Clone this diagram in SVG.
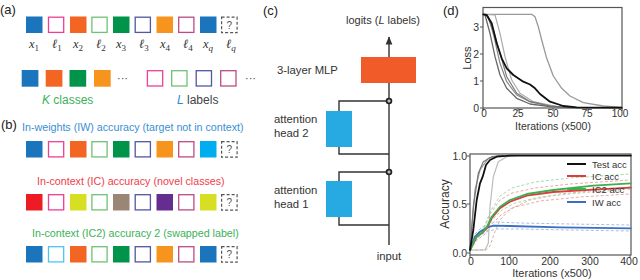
<svg xmlns="http://www.w3.org/2000/svg" width="640" height="280" viewBox="0 0 640 280">
<defs>
<style>
text{font-family:"Liberation Sans",Arial,sans-serif;fill:#333}
.pl{font-size:13px;fill:#222}
.math{font-family:"Liberation Serif","Times New Roman",serif;font-style:italic;font-size:12.5px;fill:#333}
.sub{font-style:normal;font-size:9px}
.subi{font-size:9px}
.sq{stroke:none}
.o{fill:#fff;stroke-width:1.3}
.dash{fill:#fff;stroke:#555;stroke-width:1.2;stroke-dasharray:3,2}
.q{font-size:10px;fill:#555;text-anchor:middle}
.ttl{font-size:10.7px}
.lab{font-size:11.3px;fill:#333}
.wire{fill:none;stroke:#333;stroke-width:1.4}
.frame{fill:none;stroke:#555;stroke-width:1.2}
.tick{stroke:#555;stroke-width:1}
.tl{font-size:10.5px;fill:#333}
.tls{font-size:10px;fill:#333}
.curve{fill:none;stroke-linejoin:round;stroke-linecap:round}
.pd{fill:none;stroke-width:1;stroke-dasharray:3,2}
.lg{font-size:9.5px}
</style>
<marker id="arr" viewBox="0 0 10 10" refX="9" refY="5" markerWidth="6" markerHeight="6" orient="auto">
<path d="M0,1 L10,5 L0,9 z" fill="#333"/>
</marker>
</defs>
<rect width="640" height="280" fill="#fff"/>

<!-- Panel (a) -->
<text class="pl" x="0" y="14">(a)</text>
<g id="a-seq">
<rect class="sq" x="26" y="16.5" width="16.5" height="16.5" fill="#1b75bc"/>
<rect class="o" x="48.5" y="17.2" width="15.2" height="15.2" stroke="#ec3f96"/>
<rect class="sq" x="70" y="16.5" width="16.5" height="16.5" fill="#f26522"/>
<rect class="o" x="91.9" y="17.2" width="15.2" height="15.2" stroke="#6fc274"/>
<rect class="sq" x="113" y="16.5" width="16.5" height="16.5" fill="#00944a"/>
<rect class="o" x="135.2" y="17.2" width="15.2" height="15.2" stroke="#5256a4"/>
<rect class="sq" x="156.5" y="16.5" width="16.5" height="16.5" fill="#f7941d"/>
<rect class="o" x="178.7" y="17.2" width="15.2" height="15.2" stroke="#bd4a86"/>
<rect class="sq" x="200" y="16.5" width="16.5" height="16.5" fill="#1b75bc"/>
<rect class="dash" x="221.6" y="17.2" width="15.5" height="15.5"/>
<text class="q" x="229.4" y="28.5">?</text>
</g>
<g id="a-labels">
<text class="math" x="29" y="48">x<tspan class="sub" dy="3">1</tspan></text>
<text class="math" x="52" y="48">ℓ<tspan class="sub" dy="3">1</tspan></text>
<text class="math" x="73" y="48">x<tspan class="sub" dy="3">2</tspan></text>
<text class="math" x="96" y="48">ℓ<tspan class="sub" dy="3">2</tspan></text>
<text class="math" x="116" y="48">x<tspan class="sub" dy="3">3</tspan></text>
<text class="math" x="139" y="48">ℓ<tspan class="sub" dy="3">3</tspan></text>
<text class="math" x="160" y="48">x<tspan class="sub" dy="3">4</tspan></text>
<text class="math" x="183" y="48">ℓ<tspan class="sub" dy="3">4</tspan></text>
<text class="math" x="203" y="48">x<tspan class="subi" dy="3">q</tspan></text>
<text class="math" x="226" y="48">ℓ<tspan class="subi" dy="3">q</tspan></text>
</g>
<g id="a-classes">
<rect class="sq" x="21.7" y="70" width="16.7" height="16.7" fill="#1b75bc"/>
<rect class="sq" x="45.7" y="70" width="16.7" height="16.7" fill="#f26522"/>
<rect class="sq" x="69.5" y="70" width="16.7" height="16.7" fill="#00944a"/>
<rect class="sq" x="94" y="70" width="16.7" height="16.7" fill="#f7941d"/>
<text x="117" y="82" style="font-size:11px;fill:#444">···</text>
<text x="42" y="104" style="font-size:12px;fill:#3bb15a"><tspan font-style="italic">K</tspan> classes</text>
</g>
<g id="a-labelset">
<rect class="o" x="147.4" y="70.7" width="15.3" height="15.3" stroke="#ec3f96"/>
<rect class="o" x="171.7" y="70.7" width="15.3" height="15.3" stroke="#6fc274"/>
<rect class="o" x="196.2" y="70.7" width="15.3" height="15.3" stroke="#5256a4"/>
<rect class="o" x="220.7" y="70.7" width="15.3" height="15.3" stroke="#bd4a86"/>
<text x="245" y="82" style="font-size:11px;fill:#444">···</text>
<text x="177" y="104" style="font-size:12px;fill:#444"><tspan font-style="italic" fill="#2e8bd0">L</tspan> labels</text>
</g>

<!-- Panel (b) -->
<text class="pl" x="1" y="129">(b)</text>
<g id="b-iw">
<text class="ttl" x="22" y="131" style="fill:#3a8fd3">In-weights (IW) accuracy (target not in context)</text>
<rect class="sq" x="26" y="141" width="16.5" height="16.5" fill="#1b75bc"/>
<rect class="o" x="48.5" y="141.7" width="15.2" height="15.2" stroke="#ec3f96"/>
<rect class="sq" x="70" y="141" width="16.5" height="16.5" fill="#f26522"/>
<rect class="o" x="91.9" y="141.7" width="15.2" height="15.2" stroke="#6fc274"/>
<rect class="sq" x="113" y="141" width="16.5" height="16.5" fill="#00944a"/>
<rect class="o" x="135.2" y="141.7" width="15.2" height="15.2" stroke="#5256a4"/>
<rect class="sq" x="156.5" y="141" width="16.5" height="16.5" fill="#f7941d"/>
<rect class="o" x="178.7" y="141.7" width="15.2" height="15.2" stroke="#bd4a86"/>
<rect class="sq" x="200" y="141" width="16.5" height="16.5" fill="#00aeef"/>
<rect class="dash" x="221.6" y="141.7" width="15.5" height="15.5"/>
<text class="q" x="229.4" y="153">?</text>
</g>
<g id="b-ic">
<text class="ttl" x="37" y="185" style="fill:#ef3e4a">In-context (IC) accuracy (novel classes)</text>
<rect class="sq" x="26" y="194" width="16.5" height="16.5" fill="#ed1c24"/>
<rect class="o" x="48.5" y="194.7" width="15.2" height="15.2" stroke="#ec3f96"/>
<rect class="sq" x="70" y="194" width="16.5" height="16.5" fill="#d7df23"/>
<rect class="o" x="91.9" y="194.7" width="15.2" height="15.2" stroke="#6fc274"/>
<rect class="sq" x="113" y="194" width="16.5" height="16.5" fill="#998675"/>
<rect class="o" x="135.2" y="194.7" width="15.2" height="15.2" stroke="#5256a4"/>
<rect class="sq" x="156.5" y="194" width="16.5" height="16.5" fill="#662d91"/>
<rect class="o" x="178.7" y="194.7" width="15.2" height="15.2" stroke="#bd4a86"/>
<rect class="sq" x="200" y="194" width="16.5" height="16.5" fill="#d7df23"/>
<rect class="dash" x="221.6" y="194.7" width="15.5" height="15.5"/>
<text class="q" x="229.4" y="206">?</text>
</g>
<g id="b-ic2">
<text class="ttl" x="32" y="237" style="fill:#3bb15a">In-context (IC2) accuracy 2 (swapped label)</text>
<rect class="sq" x="26" y="246" width="16.5" height="16.5" fill="#1b75bc"/>
<rect class="o" x="48.5" y="246.7" width="15.2" height="15.2" stroke="#4fc3f0"/>
<rect class="sq" x="70" y="246" width="16.5" height="16.5" fill="#f26522"/>
<rect class="o" x="91.9" y="246.7" width="15.2" height="15.2" stroke="#6fc274"/>
<rect class="sq" x="113" y="246" width="16.5" height="16.5" fill="#00944a"/>
<rect class="o" x="135.2" y="246.7" width="15.2" height="15.2" stroke="#5256a4"/>
<rect class="sq" x="156.5" y="246" width="16.5" height="16.5" fill="#f7941d"/>
<rect class="o" x="178.7" y="246.7" width="15.2" height="15.2" stroke="#bd4a86"/>
<rect class="sq" x="200" y="246" width="16.5" height="16.5" fill="#1b75bc"/>
<rect class="dash" x="221.6" y="246.7" width="15.5" height="15.5"/>
<text class="q" x="229.4" y="258">?</text>
</g>

<!-- Panel (c) -->
<text class="pl" x="263" y="15">(c)</text>
<g id="connectors">
<line class="wire" x1="389" y1="245" x2="389" y2="37" marker-end="url(#arr)"/>
<polyline class="wire" points="389,101 339,101 339,154 389,154"/>
<polyline class="wire" points="389,172 339,172 339,225 389,225"/>
</g>
<g id="mlp">
<rect x="361" y="57" width="55" height="26" fill="#f15a29"/>
<text class="lab" x="277" y="74">3-layer MLP</text>
</g>
<g id="head2">
<rect x="326" y="111" width="26" height="36" fill="#27aae1"/>
<text class="lab" x="274" y="123">attention</text>
<text class="lab" x="274" y="137">head 2</text>
</g>
<g id="head1">
<rect x="326" y="181" width="26" height="36" fill="#27aae1"/>
<text class="lab" x="274" y="194">attention</text>
<text class="lab" x="274" y="208">head 1</text>
</g>
<g id="add2">
<circle cx="389" cy="101" r="3.3" fill="#222"/>
<path d="M387.3,101 H390.7 M389,99.3 V102.7" stroke="#fff" stroke-width="0.9"/>
</g>
<g id="add1">
<circle cx="389" cy="172" r="3.3" fill="#222"/>
<path d="M387.3,172 H390.7 M389,170.3 V173.7" stroke="#fff" stroke-width="0.9"/>
</g>
<g id="logits"><text x="346" y="24" style="font-size:11px">logits (<tspan font-style="italic">L</tspan> labels)</text></g>
<g id="input"><text x="389" y="260" text-anchor="middle" style="font-size:11.3px">input</text></g>

<!-- Panel (d) -->
<text class="pl" x="443" y="15">(d)</text>
<!-- Loss plot -->
<g id="loss-plot">
<rect class="frame" x="483" y="7.5" width="139" height="100.5"/>
<g class="tick">
<line x1="480" y1="108" x2="483" y2="108"/><line x1="480" y1="81" x2="483" y2="81"/>
<line x1="480" y1="54" x2="483" y2="54"/><line x1="480" y1="27" x2="483" y2="27"/>
<line x1="483" y1="108" x2="483" y2="111"/><line x1="518" y1="108" x2="518" y2="111"/>
<line x1="553" y1="108" x2="553" y2="111"/><line x1="587" y1="108" x2="587" y2="111"/>
<line x1="622" y1="108" x2="622" y2="111"/>
</g>
<g class="tl" text-anchor="end">
<text x="479" y="112">0</text><text x="479" y="85">1</text><text x="479" y="58">2</text><text x="479" y="31">3</text>
</g>
<g class="tls" text-anchor="middle">
<text x="484" y="117">0</text><text x="518" y="117">25</text><text x="553" y="117">50</text><text x="587" y="117">75</text><text x="620" y="117">100</text>
</g>
<text x="553" y="129.5" text-anchor="middle" style="font-size:10.5px">Iterations (x500)</text>
<text transform="translate(471,58) rotate(-90)" text-anchor="middle" style="font-size:11px">Loss</text>
<polyline class="curve" stroke="#999" stroke-width="1.3" points="483.3,14.3 531.7,14.3 535,16.7 538.3,26.7 541.7,40 546.7,58.3 553.3,76 561.7,88.3 570,96 583.3,102.7 603.3,106 621.7,107.3"/>
<polyline class="curve" stroke="#aaa" stroke-width="1.2" points="483.3,14.3 495,15 500,33.3 505,56.7 511.7,80 520,93.3 533.3,101.7 556.7,106.7 576.7,107.7"/>
<polyline class="curve" stroke="#888" stroke-width="1.2" points="483.3,14.3 488.3,16.7 494,36.7 500,63.3 506.7,81.7 516.7,95 530,101.7 550,106 570,107.5"/>
<polyline class="curve" stroke="#777" stroke-width="1.2" points="483.3,14.3 486.7,15 493.3,30 500,53.3 506.7,76.7 516.7,93.3 530,101.7 550,106 570,107.3"/>
<polyline class="curve" stroke="#666" stroke-width="1.3" points="483.3,14.3 485,15 490,33.3 495,56.7 500,75 506.7,88.3 516.7,98.3 530,104 550,106.7 570,107.7 621.7,107.7"/>
<polyline class="curve" stroke="#111" stroke-width="1.8" points="483.3,14.3 486.7,15 491.7,23.3 496.7,43.3 501.7,58.3 506.7,68.3 513.3,75 523.3,81.7 530,84.5 535,88.3 540,94 550,101.7 563.3,106 576.7,107.3 621.7,107.7"/>
</g>

<!-- Accuracy plot -->
<g id="acc-plot">
<rect class="frame" x="470" y="154" width="161" height="101"/>
<g class="tick">
<line x1="467" y1="156" x2="470" y2="156"/><line x1="467" y1="204" x2="470" y2="204"/><line x1="467" y1="253" x2="470" y2="253"/>
<line x1="470" y1="255" x2="470" y2="258"/><line x1="510" y1="255" x2="510" y2="258"/><line x1="550" y1="255" x2="550" y2="258"/>
<line x1="590" y1="255" x2="590" y2="258"/><line x1="630" y1="255" x2="630" y2="258"/>
</g>
<g class="tl" text-anchor="end">
<text x="467" y="160">1.0</text><text x="467" y="208">0.5</text><text x="467" y="257">0.0</text>
</g>
<g class="tl" text-anchor="middle">
<text x="471" y="265">0</text><text x="509" y="265">100</text><text x="550" y="265">200</text><text x="590" y="265">300</text><text x="629" y="265">400</text>
</g>
<text x="552" y="277" text-anchor="middle" style="font-size:11px">Iterations (x500)</text>
<text transform="translate(449,204) rotate(-90)" text-anchor="middle" style="font-size:12px">Accuracy</text>

<polyline class="pd" stroke="#d9b3a8" points="470,250 486,250 490,246 494,234 500,220 510,209 530,200 560,194 600,190 630,187"/>
<polyline class="pd" stroke="#f3a5a8" points="470,248 477,235 484,229 490,214 500,200 512,193 535,188 570,184 630,180"/>
<polyline class="pd" stroke="#f3a5a8" points="470,250 477,240 485,234 492,224 502,214 515,207 540,201 580,197 630,194"/>
<polyline class="pd" stroke="#a9dcaa" points="470,248 477,234 484,228 490,212 500,196 512,188 535,182 570,178 630,174"/>
<polyline class="pd" stroke="#a9dcaa" points="470,250 477,238 485,232 492,220 502,210 515,203 540,197 580,193 630,189"/>
<polyline class="pd" stroke="#a9bfe6" points="470,248 475,234 481,228 488,224 496,222 520,223 570,224 630,225"/>
<polyline class="pd" stroke="#a9bfe6" points="470,250 476,239 482,234 489,231 497,229 520,229 570,230 630,231"/>

<polyline class="curve" stroke="#bbb" stroke-width="1.2" points="470,250 485,250 488.3,243.3 490,206.7 493.3,176.7 498.3,161.7 506.7,156.7 516.7,155.7"/>
<polyline class="curve" stroke="#999" stroke-width="1.2" points="470,250 475,190 480,170 488.3,158.3 500,155.7"/>
<polyline class="curve" stroke="#777" stroke-width="1.2" points="470,250 473.3,206.7 478.3,173.3 483.3,161.7 491.7,156.7 503.3,155.7"/>
<polyline class="curve" stroke="#3a6fc4" stroke-width="1.8" points="470,250 475,236.7 480,231.7 486.7,227.7 493.3,225.7 510,226 560,227.3 630.7,228.3"/>
<polyline class="curve" stroke="#e0393e" stroke-width="1.8" points="470,250 476.7,236.7 483.3,231.7 486.7,228.3 491.7,218.3 500,208.3 510,201.7 526.7,195.7 553.3,192 593.3,189.7 630.7,187.7"/>
<polyline class="curve" stroke="#3bb04e" stroke-width="1.8" points="470,250 476.7,236.7 483.3,231.7 486.7,227.3 491.7,216.7 500,206.7 510,200 526.7,194 553.3,190 593.3,185.7 630.7,183.3"/>
<polyline class="curve" stroke="#111" stroke-width="1.8" points="470,250 473.3,230 476.7,200 480,183.3 482.7,176.7 486,165 490,160 496.7,156.7 510,155.7 630.7,155.7"/>

<g id="legend">
<line x1="567" y1="164" x2="586" y2="164" stroke="#111" stroke-width="2"/>
<text class="lg" x="592" y="167.5">Test acc</text>
<line x1="567" y1="176" x2="586" y2="176" stroke="#e0393e" stroke-width="2"/>
<text class="lg" x="592" y="179.5">IC acc</text>
<line x1="567" y1="189" x2="586" y2="189" stroke="#3bb04e" stroke-width="2"/>
<text class="lg" x="592" y="192.5">IC2 acc</text>
<line x1="567" y1="202" x2="586" y2="202" stroke="#3a6fc4" stroke-width="2"/>
<text class="lg" x="592" y="205.5">IW acc</text>
</g>
</g>
</svg>
